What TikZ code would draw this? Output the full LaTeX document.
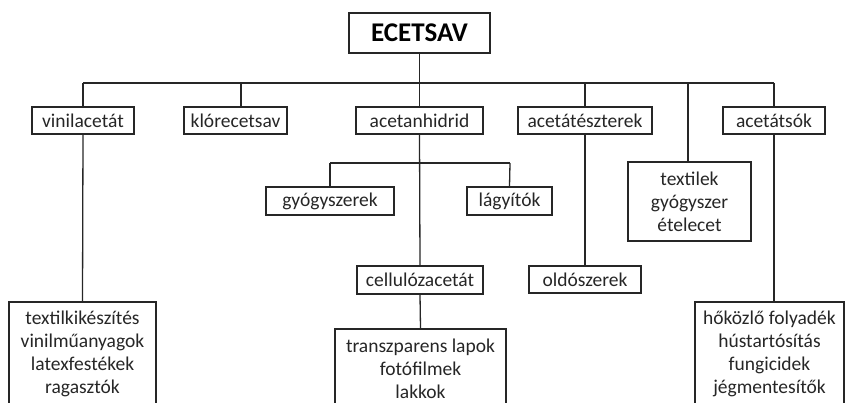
\documentclass[tikz,border=0pt]{standalone}
\usepackage{fontspec}
\setmainfont{Carlito}
\begin{document}
\begin{tikzpicture}[x=1pt,y=-1pt,
  box/.style={draw=black!85,line width=1.4pt,fill=white,inner sep=0pt,align=center,
    font=\fontsize{19.5}{23}\selectfont,text=black!85},
  topbox/.style={box,line width=2.6pt,font=\fontsize{27}{30}\selectfont\bfseries,text=black},
  conn/.style={draw=black!85,line width=1.3pt}]
\useasboundingbox (0,0) rectangle (845,403);
\begin{scope}
\clip (0,0) rectangle (845,403);
% nodes
\node[topbox,minimum width=141pt,minimum height=40pt] (ec) at (419.5,33) {ECETSAV};
\node[box,minimum width=102pt,minimum height=27pt] (vin) at (83,120.5) {vinilacetát};
\node[box,minimum width=103pt,minimum height=27pt] (kl) at (235.5,120.5) {klórecetsav};
\node[box,minimum width=127pt,minimum height=27pt] (ah) at (419.5,120.5) {acetanhidrid};
\node[box,minimum width=134pt,minimum height=27pt] (ae) at (585,120.5) {acetátészterek};
\node[box,minimum width=102pt,minimum height=27pt] (as) at (774,120.5) {acetátsók};
\node[box,minimum width=123pt,minimum height=79pt] (tx) at (689.5,201.5) {textilek\\gyógyszer\\ételecet};
\node[box,minimum width=128pt,minimum height=28pt] (gy) at (330,201) {gyógyszerek};
\node[box,minimum width=85pt,minimum height=28pt] (la) at (509.5,201) {lágyítók};
\node[box,minimum width=126pt,minimum height=28pt] (ce) at (420,280) {cellulózacetát};
\node[box,minimum width=112pt,minimum height=27pt] (ol) at (585,279.5) {oldószerek};
\node[box,minimum width=147pt,minimum height=104pt] (vb) at (82.5,354) {textilkikészítés\\vinilműanyagok\\latexfestékek\\ragasztók};
\node[box,minimum width=171pt,minimum height=79pt] (cb) at (420.5,368.5) {transzparens lapok\\fotófilmek\\lakkok};
\node[box,minimum width=149pt,minimum height=104pt] (sb) at (769.5,354) {hőközlő folyadék\\hústartósítás\\fungicidek\\jégmentesítők};
% bus coordinates
\coordinate (busL) at (83,83);
\coordinate (busR) at (774,83);
\coordinate (dkl) at (241,83);
\coordinate (dtx) at (688,83);
\coordinate (subL) at (330,163);
\coordinate (subR) at (510,163);
% connectors
\draw[conn] (ec.south) -- (ec.south |- busL);
\draw[conn] (busL) -- (busR);
\draw[conn] (busL) -- (vin.north);
\draw[conn] (dkl) -- (dkl |- kl.north);
\draw[conn] (ah.north |- busL) -- (ah.north);
\draw[conn] (ae.north |- busL) -- (ae.north);
\draw[conn] (busR) -- (as.north);
\draw[conn] (dtx) -- (dtx |- tx.north);
\draw[conn] (vin.south) -- (vb.north);
\draw[conn] (ah.south) -- (ce.north);
\draw[conn] (subL) -- (subR);
\draw[conn] (subL) -- (gy.north);
\draw[conn] (subR) -- (la.north);
\draw[conn] (ae.south) -- (ol.north);
\draw[conn] (as.south) -- (as.south |- sb.north);
\draw[conn] (ce.south) -- (cb.north);
\end{scope}
\end{tikzpicture}
\end{document}
